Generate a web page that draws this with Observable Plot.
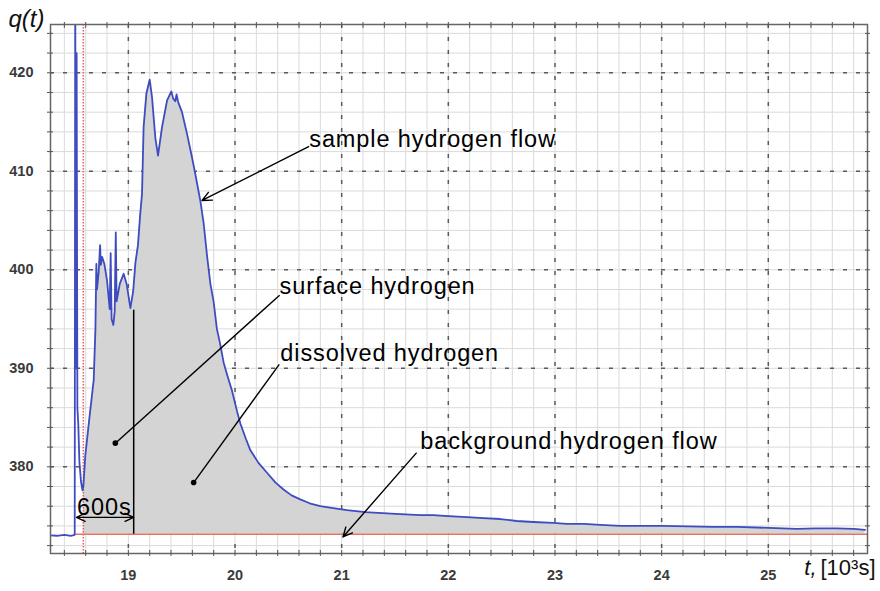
<!DOCTYPE html>
<html>
<head>
<meta charset="utf-8">
<script src="https://cdn.jsdelivr.net/npm/d3@7"></script>
<script src="https://cdn.jsdelivr.net/npm/@observablehq/plot@0.6"></script>
<style>
  html, body { margin: 0; padding: 0; background: #fff; }
  #chart svg { display: block; }
  .ann text { letter-spacing: 0.9px; }
</style>
</head>
<body>
<div id="chart"></div>
<script>
// ---- data ----
const tValues = [
  18.27, 18.33, 18.40, 18.46, 18.497, 18.502, 18.507, 18.515, 18.522, 18.530,
  18.541, 18.556, 18.570, 18.578, 18.597, 18.635, 18.675, 18.691, 18.700, 18.706,
  18.722, 18.735, 18.742, 18.754, 18.775, 18.800, 18.825, 18.834, 18.843, 18.859,
  18.872, 18.882, 18.890, 18.920, 18.956, 18.985, 19.019, 19.045, 19.066, 19.090,
  19.110, 19.128, 19.143, 19.169, 19.200, 19.222, 19.253, 19.278, 19.316, 19.363,
  19.403, 19.420, 19.440, 19.452, 19.468, 19.503, 19.550, 19.597, 19.628, 19.675,
  19.706, 19.740, 19.770, 19.799, 19.830, 19.860, 19.893, 19.930, 19.970, 20.020,
  20.050, 20.100, 20.143, 20.220, 20.300, 20.380, 20.455, 20.530, 20.612, 20.700,
  20.800, 20.921, 21.050, 21.221, 21.380, 21.549, 21.737, 21.858, 22.000, 22.174,
  22.330, 22.486, 22.640, 22.796, 22.983, 23.111, 23.270, 23.424, 23.611, 23.800,
  24.002, 24.250, 24.483, 24.705, 25.000, 25.267, 25.450, 25.642, 25.800, 25.907
];
const qValues = [
  373.05, 373.0, 373.1, 373.0, 373.1, 430.0, 390.0, 422.0, 386.0, 384.5,
  380.5, 378.5, 377.6, 378.0, 381.2, 385.0, 388.8, 393.9, 400.6, 398.0,
  399.8, 402.5, 400.5, 401.3, 400.6, 398.9, 396.0, 401.7, 395.0, 394.4,
  395.8, 403.8, 396.8, 398.6, 399.6, 398.5, 396.1, 397.8, 400.7, 402.5,
  405.5, 407.7, 414.5, 417.9, 419.3, 417.5, 413.4, 411.6, 414.5, 417.2,
  418.1, 417.4, 417.1, 417.8, 417.0, 416.0, 413.8, 411.4, 409.7, 407.0,
  404.7, 401.2, 398.5, 396.8, 394.0, 392.5, 390.6, 389.2, 387.8, 385.6,
  384.4, 382.9, 381.7, 380.4, 379.4, 378.4, 377.7, 377.1, 376.7, 376.3,
  376.0, 375.8, 375.6, 375.4, 375.3, 375.2, 375.1, 375.1, 375.0, 374.9,
  374.8, 374.7, 374.5, 374.4, 374.3, 374.2, 374.2, 374.1, 374.0, 374.0,
  374.0, 373.95, 373.9, 373.9, 373.8, 373.7, 373.75, 373.75, 373.7, 373.6
];
const background = 373.15;      // background hydrogen flow level
const onset = 18.578;           // red dotted marker (start of integration)
const boundary = 19.05;         // surface / dissolved boundary (600 s after onset)

const xTicks = [19, 20, 21, 22, 23, 24, 25];
const yTicks = [380, 390, 400, 410, 420];
const xMinorTicks = d3.range(92, 130).map(i => i / 5);   // every 0.2
const yMinorTicks = d3.range(372, 425, 2);                 // every 2

// annotation texts and their anchor points (data coordinates)
const annLabels = ["sample hydrogen flow", "surface hydrogen", "dissolved hydrogen", "background hydrogen flow", "600s"];
const annT = [20.696, 20.418, 20.425, 21.737, 18.519];
const annQ = [412.51, 397.59, 390.77, 381.79, 375.14];

const arrowFrom = [{t: 20.69, q: 412.5}, {t: 21.699, q: 381.39}];
const arrowTo   = [{t: 19.691, q: 407.04}, {t: 21.012, q: 372.88}];
const leaderFrom = [{t: 20.418, q: 397.42}, {t: 20.415, q: 390.4}];
const leaderTo   = [{t: 18.878, q: 382.4}, {t: 19.612, q: 378.4}];
const spanArrowQ = 374.87;
const spanStart = 18.513, spanEnd = 19.050;
const boundaryTop = 395.9;

// ---- build tables ----
const series = tValues.map((t, i) => ({t, q: qValues[i]}));
const filled = series.filter(d => d.t >= onset);
const annotations = annLabels.map((text, i) => ({text, t: annT[i], q: annQ[i]}));
const arrows = arrowFrom.map((a, i) => ({x1: a.t, y1: a.q, x2: arrowTo[i].t, y2: arrowTo[i].q}));
const spanMid = (spanStart + spanEnd) / 2;
arrows.push({x1: spanMid, y1: spanArrowQ, x2: spanStart, y2: spanArrowQ});
arrows.push({x1: spanMid, y1: spanArrowQ, x2: spanEnd, y2: spanArrowQ});
const leaders = leaderFrom.map((a, i) => ({x1: a.t, y1: a.q, x2: leaderTo[i].t, y2: leaderTo[i].q}));

const font = "Liberation Sans, Arial, Helvetica, sans-serif";

const chart = Plot.plot({
  width: 880,
  height: 591,
  marginLeft: 50,
  marginRight: 13,
  marginTop: 24,
  marginBottom: 38,
  style: {fontFamily: font, background: "#fff", overflow: "visible"},
  x: {domain: [18.27, 25.93], label: null},
  y: {domain: [371.2, 424.9], label: null},
  marks: [
    // grid
    Plot.ruleX(xMinorTicks, {stroke: "#dadada", strokeWidth: 1}),
    Plot.ruleY(yMinorTicks, {stroke: "#dadada", strokeWidth: 1}),
    Plot.ruleX(xTicks, {stroke: "#5a5a5a", strokeWidth: 1.5, strokeDasharray: "4,9"}),
    Plot.ruleY(yTicks, {stroke: "#5a5a5a", strokeWidth: 1.5, strokeDasharray: "4,9"}),
    // hydrogen released above background
    Plot.area(filled, {x1: "t", y1: background, y2: "q", fill: "#d4d4d4"}),
    // background flow & onset marker
    Plot.ruleY([background], {x1: 18.5, x2: 25.93, stroke: "#e8735f", strokeWidth: 1.6}),
    Plot.ruleX([onset], {stroke: "#f05a5a", strokeWidth: 1.5, strokeDasharray: "1.5,1.5"}),
    // sample flow curve
    Plot.line(series, {x: "t", y: "q", stroke: "#3f4cc0", strokeWidth: 1.8, clip: true}),
    // frame + ticks
    Plot.frame({stroke: "#666", strokeWidth: 1.5}),
    Plot.axisY(yMinorTicks, {anchor: "left", tickSize: 6, dx: 3, fill: "none", stroke: "#555", label: null}),
    Plot.axisY(yMinorTicks, {anchor: "right", tickSize: 5, dx: -3, fill: "none", stroke: "#555", label: null}),
    Plot.axisX(xMinorTicks, {anchor: "bottom", tickSize: 6, dy: -3, fill: "none", stroke: "#555", label: null}),
    Plot.axisX(xMinorTicks, {anchor: "top", tickSize: 6, dy: 3, fill: "none", stroke: "#555", label: null}),
    Plot.axisY(yTicks, {anchor: "left", tickSize: 0, tickPadding: 17, fontSize: 14.5, fontWeight: "bold", fill: "#3a3a3a", label: null}),
    Plot.axisX(xTicks, {anchor: "bottom", tickSize: 0, tickPadding: 16, fontSize: 14.5, fontWeight: "bold", fill: "#3a3a3a", label: null}),
    // axis titles
    Plot.text(["q(t)"], {frameAnchor: "top-left", dx: -6, dy: 2, textAnchor: "end", lineAnchor: "bottom", fontSize: 24, fontStyle: "italic", fill: "#111"}),
    Plot.text(["[10³s]"], {frameAnchor: "bottom-right", dx: 8, dy: 21, textAnchor: "end", lineAnchor: "bottom", fontSize: 22, fill: "#111"}),
    Plot.text(["t,"], {frameAnchor: "bottom-right", dx: -51, dy: 21, textAnchor: "end", lineAnchor: "bottom", fontSize: 22, fontStyle: "italic", fill: "#111"}),
    // annotations
    Plot.ruleX([boundary], {y1: background, y2: boundaryTop, stroke: "#000", strokeWidth: 1.5}),
    Plot.link(leaders, {x1: "x1", y1: "y1", x2: "x2", y2: "y2", stroke: "#000", strokeWidth: 1.4}),
    Plot.dot(leaders, {x: "x2", y: "y2", r: 2.8, fill: "#000", stroke: null}),
    Plot.arrow(arrows, {x1: "x1", y1: "y1", x2: "x2", y2: "y2", stroke: "#000", strokeWidth: 1.4, headLength: 11, headAngle: 50}),
    Plot.text(annotations, {x: "t", y: "q", text: "text", textAnchor: "start", lineAnchor: "bottom", fontSize: 23.5, fill: "#000", className: "ann"})
  ]
});
document.getElementById("chart").appendChild(chart);
</script>
</body>
</html>
